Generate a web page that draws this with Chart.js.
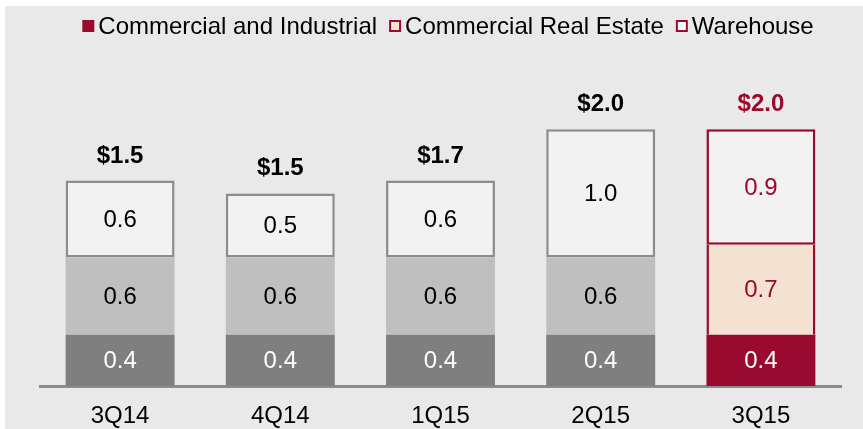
<!DOCTYPE html>
<html>
<head>
<meta charset="utf-8">
<script src="https://cdn.jsdelivr.net/npm/chart.js@4.4.1/dist/chart.umd.min.js"></script>
<style>
  html, body { margin: 0; padding: 0; background: #ffffff; }
  #wrap { width: 863px; height: 429px; }
</style>
</head>
<body>
<div id="wrap"><canvas id="barChart" width="863" height="429"></canvas></div>
<script>
// datos
const quarters = ['3Q14', '4Q14', '1Q15', '2Q15', '3Q15'];
const commercialIndustrial = [0.4, 0.4, 0.4, 0.4, 0.4];
const commercialRealEstate = [0.6, 0.6, 0.6, 0.6, 0.7];
const warehouse = [0.6, 0.5, 0.6, 1.0, 0.9];
const totals = ['$1.5', '$1.5', '$1.7', '$2.0', '$2.0'];

const MAROON = '#9a0a2e';
const FONT = '"Liberation Sans", Arial, sans-serif';

document.addEventListener('DOMContentLoaded', function() {
    const ctx = document.getElementById('barChart').getContext('2d');

    // colores por barra (la ultima resaltada)
    const last = quarters.length - 1;
    const pick = (normal, hl) => quarters.map((q, i) => i === last ? hl : normal);

    const data = {
        labels: quarters,
        datasets: [{
            label: 'Commercial and Industrial',
            data: commercialIndustrial,
            backgroundColor: pick('#7f7f7f', MAROON),
            borderWidth: 0,
            labelColor: pick('#ffffff', '#ffffff'),
            legendFill: MAROON
        }, {
            label: 'Commercial Real Estate',
            data: commercialRealEstate,
            backgroundColor: pick('#bfbfbf', '#f4e2d0'),
            borderColor: pick('#bfbfbf', MAROON),
            borderWidth: pick(0, { left: 2.5, right: 2.5, top: 0, bottom: 0 }),
            labelColor: pick('#000000', MAROON),
            legendFill: '#f4e2d0'
        }, {
            label: 'Warehouse',
            data: warehouse,
            backgroundColor: pick('#f2f2f2', '#f2f2f2'),
            borderColor: pick('#8c8c8c', MAROON),
            borderWidth: 2.5,
            labelColor: pick('#000000', MAROON),
            legendFill: '#ffffff'
        }]
    };
    data.datasets.forEach(ds => {
        ds.borderSkipped = false;
        ds.barPercentage = 0.68;
        ds.categoryPercentage = 1;
    });

    // fondo gris
    const fondo = {
        id: 'fondo',
        beforeDraw(chart) {
            const c = chart.ctx;
            c.save();
            c.fillStyle = '#e9e9e9';
            c.fillRect(5, 6, chart.width - 5, chart.height - 6);
            c.restore();
        }
    };

    // etiquetas dentro de las barras y totales
    const etiquetas = {
        id: 'etiquetas',
        afterDatasetsDraw(chart) {
            const c = chart.ctx;
            c.save();
            c.textAlign = 'center';
            c.textBaseline = 'middle';
            c.font = '24px ' + FONT;
            chart.data.datasets.forEach((ds, d) => {
                chart.getDatasetMeta(d).data.forEach((bar, i) => {
                    c.fillStyle = ds.labelColor[i];
                    c.fillText(ds.data[i].toFixed(1), bar.x, (bar.y + bar.base) / 2 + 1);
                });
            });
            const top = chart.getDatasetMeta(chart.data.datasets.length - 1).data;
            c.font = 'bold 24px ' + FONT;
            c.textBaseline = 'alphabetic';
            top.forEach((bar, i) => {
                c.fillStyle = i === last ? MAROON : '#000000';
                c.fillText(totals[i], bar.x, bar.y - 18);
            });
            c.restore();
        }
    };

    // leyenda
    const leyenda = {
        id: 'leyenda',
        afterDraw(chart) {
            const c = chart.ctx;
            c.save();
            c.font = '24px ' + FONT;
            c.textBaseline = 'middle';
            const box = 12, gapBox = 4, gapItem = 12;
            const items = chart.data.datasets.map(ds => ({ ds, w: c.measureText(ds.label).width }));
            const total = items.reduce((s, it) => s + box + gapBox + it.w, 0) + gapItem * (items.length - 1);
            let x = 448 - total / 2;
            const y = 26;
            items.forEach((it, k) => {
                if (k === 0) {
                    c.fillStyle = MAROON;
                    c.fillRect(x, y - box / 2, box, box);
                } else {
                    c.fillStyle = it.ds.legendFill;
                    c.fillRect(x, y - box / 2, box, box);
                    c.strokeStyle = MAROON;
                    c.lineWidth = 2;
                    c.strokeRect(x + 1, y - box / 2 + 1, box - 2, box - 2);
                }
                x += box + gapBox;
                c.fillStyle = '#000000';
                c.textAlign = 'left';
                c.fillText(it.ds.label, x, y + 1);
                x += it.w + gapItem;
            });
            c.restore();
        }
    };

    const options = {
        responsive: false,
        animation: false,
        layout: { padding: { left: 40, right: 22, top: 65, bottom: 0 } },
        plugins: {
            legend: { display: false },
            tooltip: { enabled: false }
        },
        scales: {
            x: {
                stacked: true,
                grid: { display: false, drawTicks: false },
                border: { display: true, color: '#8c8c8c', width: 3 },
                ticks: { color: '#000000', font: { family: FONT, size: 24 }, padding: 16 },
                afterFit(scale) { scale.height = 43; }
            },
            y: {
                stacked: true,
                display: false,
                min: 0,
                max: 2.5
            }
        }
    };

    new Chart(ctx, {
        type: 'bar',
        data: data,
        options: options,
        plugins: [fondo, etiquetas, leyenda]
    });
});
</script>
</body>
</html>
